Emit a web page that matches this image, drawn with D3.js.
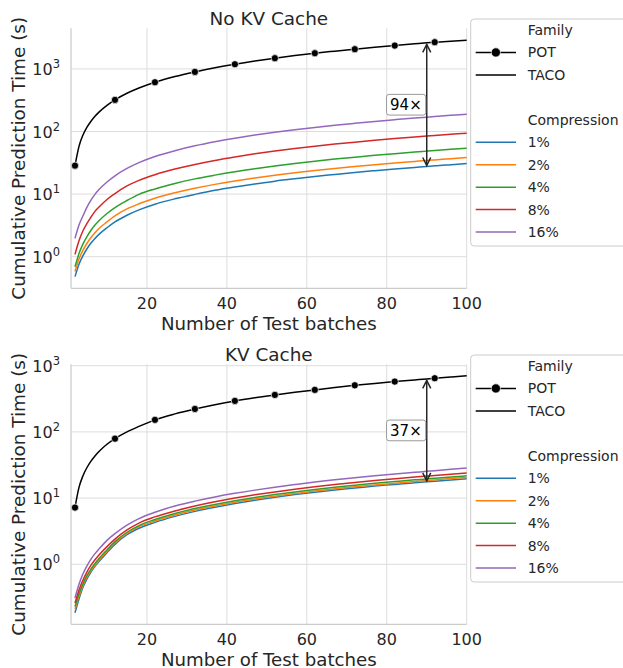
<!DOCTYPE html>
<html>
<head>
<meta charset="utf-8">
<script src="https://cdn.jsdelivr.net/npm/d3@7"></script>
<style>
  html, body { margin: 0; padding: 0; background: #ffffff; }
  svg { display: block; font-family: "DejaVu Sans", sans-serif; }
</style>
</head>
<body>
<svg id="chart" width="623" height="668"></svg>
<script>
// ---------------- DATA ----------------
const batches = [2,3,4,5,6,7,8,10,12,15,18,22,27,32,37,42,47,52,57,62,67,72,77,82,87,90,92,96,100];
const markerBatches = [2,12,22,32,42,52,62,72,82,92];
const compressionLabels = ["1%","2%","4%","8%","16%"];
const familyLabels = ["POT","TACO"];
const panelTitles = ["No KV Cache","KV Cache"];
const speedupLabels = ["94×","37×"];
const annotBatch = 90;
const xTicks = [20,40,60,80,100];
const yTicks = [1,10,100,1000];

// No KV Cache
const potNoKV = [28.5,58,88,117,146,175,204,262,320,408,495,612,755,896,1042,1188,1335,1483,1632,1782,1922,2065,2212,2361,2515,2612,2673,2775,2873];
const c1NoKV  = [0.48,0.76,1.04,1.34,1.65,1.96,2.27,2.9,3.6,4.6,5.6,6.9,8.4,9.9,11.5,13.0,14.5,16.1,17.6,19.1,20.6,22.2,23.7,25.2,26.7,27.6,28.3,29.5,30.7];
const c2NoKV  = [0.58,0.92,1.27,1.64,2.03,2.42,2.82,3.6,4.5,5.8,7.0,8.6,10.5,12.4,14.3,16.2,18.1,20.0,21.9,23.8,25.7,27.6,29.5,31.4,33.3,34.5,35.2,36.8,38.3];
const c4NoKV  = [0.69,1.12,1.6,2.1,2.65,3.2,3.75,4.9,6.1,7.9,9.9,12.1,14.8,17.5,20.1,22.8,25.5,28.2,30.9,33.6,36.3,38.9,41.6,44.3,47.0,48.6,49.7,51.9,54];
const c8NoKV  = [1.09,1.8,2.6,3.4,4.3,5.3,6.2,8.2,10.2,13.5,16.6,20.4,25.1,29.8,34.5,39.2,44.0,48.7,53.4,58.1,62.9,67.6,72.3,77.0,81.7,84.6,86.5,90.2,94];
const c16NoKV = [1.96,3.2,4.5,6.2,8.0,9.9,11.8,15.6,19.6,25.7,31.8,39.8,49.4,59.0,68.5,78.0,87.6,97.1,106.7,116.2,125.8,135.3,144.9,154.4,164.0,169.7,173.5,181.2,189];

// KV Cache
const potKV = [7.2,14.5,21.8,29,36.2,43.4,50.6,65,79,100,121,152,187,222,258,294,328,362,396,431,468,506,540,575,610,632,646,674,702];
const c1KV  = [0.186,0.3,0.45,0.6,0.76,0.93,1.1,1.5,2.0,2.8,3.5,4.3,5.3,6.3,7.3,8.3,9.3,10.3,11.3,12.3,13.3,14.2,15.2,16.1,17.1,17.6,18.0,18.8,19.6];
const c2KV  = [0.21,0.33,0.48,0.64,0.8,0.97,1.15,1.57,2.1,2.92,3.7,4.5,5.55,6.6,7.6,8.65,9.7,10.7,11.7,12.8,13.8,14.8,15.8,16.8,17.8,18.4,18.8,19.7,20.5];
const c4KV  = [0.23,0.36,0.51,0.68,0.85,1.03,1.22,1.65,2.2,3.05,3.85,4.75,5.85,6.95,8.0,9.1,10.2,11.3,12.4,13.5,14.6,15.6,16.7,17.8,18.9,19.5,20.0,20.8,21.7];
const c8KV  = [0.26,0.41,0.58,0.77,0.97,1.17,1.38,1.85,2.4,3.3,4.2,5.2,6.4,7.6,8.8,10.0,11.2,12.4,13.6,14.8,16.0,17.2,18.4,19.6,20.8,21.5,22.0,23.0,23.9];
const c16KV = [0.31,0.5,0.72,0.95,1.2,1.45,1.7,2.3,2.9,3.9,4.9,6.1,7.6,9.0,10.4,11.8,13.2,14.6,16.0,17.5,18.9,20.3,21.7,23.1,24.5,25.4,26.0,27.2,28.4];

// ---------------- STYLE / LAYOUT ----------------
const colors = ["#1f77b4","#ff7f0e","#2ca02c","#d62728","#9467bd"];
const textColor = "#262626";
const gridColor = "#dddddd";
const left = 71, right = 466.7, plotH = 260;
const panels = [
  {top: 28.3, logLo: -0.505, logHi: 3.649, pot: potNoKV, comp: [c1NoKV,c2NoKV,c4NoKV,c8NoKV,c16NoKV]},
  {top: 364.3, logLo: -0.906, logHi: 3.021, pot: potKV, comp: [c1KV,c2KV,c4KV,c8KV,c16KV]}
];

const svg = d3.select("#chart");
svg.append("rect").attr("width",623).attr("height",668).attr("fill","#ffffff");

const x = d3.scaleLinear().domain([1,100]).range([left,right]);

panels.forEach((p, pi) => {
  const bottom = p.top + plotH;
  const y = d3.scaleLog().domain([Math.pow(10,p.logLo), Math.pow(10,p.logHi)]).range([bottom, p.top]);
  const g = svg.append("g");

  // grid
  g.selectAll(".vx").data(xTicks).enter().append("line")
    .attr("x1", d => x(d)).attr("x2", d => x(d))
    .attr("y1", p.top).attr("y2", bottom)
    .attr("stroke", gridColor).attr("stroke-width", 1);
  g.selectAll(".hy").data(yTicks).enter().append("line")
    .attr("x1", left).attr("x2", right)
    .attr("y1", d => y(d)).attr("y2", d => y(d))
    .attr("stroke", gridColor).attr("stroke-width", 1);
  // spines
  g.append("line").attr("x1",left).attr("x2",left).attr("y1",p.top).attr("y2",bottom)
    .attr("stroke","#cccccc").attr("stroke-width",1.25);
  g.append("line").attr("x1",left).attr("x2",right).attr("y1",bottom).attr("y2",bottom)
    .attr("stroke","#cccccc").attr("stroke-width",1.25);

  // x tick labels
  g.selectAll(".xt").data(xTicks).enter().append("text")
    .attr("x", d => x(d)).attr("y", bottom + 21)
    .attr("text-anchor","middle").attr("font-size","16px").attr("fill",textColor)
    .text(d => d);
  // y tick labels
  yTicks.forEach(t => {
    const tx = g.append("text").attr("x", 60).attr("y", y(t) + 6)
      .attr("text-anchor","end").attr("font-size","16px").attr("fill",textColor);
    tx.append("tspan").text("10");
    tx.append("tspan").attr("font-size","11.5px").attr("dy",-7).text(Math.round(Math.log10(t)));
  });

  // title & axis labels
  g.append("text").attr("x",(left+right)/2).attr("y",p.top-3.3)
    .attr("text-anchor","middle").attr("font-size","18.4px").attr("fill",textColor)
    .text(panelTitles[pi]);
  g.append("text").attr("x",(left+right)/2).attr("y",bottom+41.2)
    .attr("text-anchor","middle").attr("font-size","18.2px").attr("fill",textColor)
    .text("Number of Test batches");
  g.append("text").attr("transform",`translate(25,${p.top+plotH/2}) rotate(-90)`)
    .attr("text-anchor","middle").attr("font-size","18.4px").attr("fill",textColor)
    .text("Cumulative Prediction Time (s)");

  // lines
  const line = d3.line().x((d,i) => x(batches[i])).y(d => y(d)).curve(d3.curveMonotoneX);
  p.comp.forEach((vals, ci) => {
    g.append("path").attr("d", line(vals)).attr("fill","none")
      .attr("stroke", colors[ci]).attr("stroke-width",1.5);
  });
  g.append("path").attr("d", line(p.pot)).attr("fill","none")
    .attr("stroke","#000000").attr("stroke-width",1.5);
  const markerData = markerBatches.map(b => [b, p.pot[batches.indexOf(b)]]);
  g.selectAll(".mk").data(markerData).enter().append("circle")
    .attr("cx", d => x(d[0])).attr("cy", d => y(d[1])).attr("r", 3.6)
    .attr("fill","#000000").attr("stroke","#ffffff").attr("stroke-width",0.7);

  // annotation
  const ai = batches.indexOf(annotBatch);
  const ax = x(annotBatch);
  const yT = y(p.pot[ai]) + 1.5, yB = y(p.comp[0][ai]) - 1;
  g.append("line").attr("x1",ax).attr("x2",ax).attr("y1",yT).attr("y2",yB)
    .attr("stroke","#262626").attr("stroke-width",1.5);
  g.append("path").attr("d",`M${ax-4},${yT+8}L${ax},${yT}L${ax+4},${yT+8}`)
    .attr("fill","none").attr("stroke","#262626").attr("stroke-width",1.5);
  g.append("path").attr("d",`M${ax-4},${yB-8}L${ax},${yB}L${ax+4},${yB-8}`)
    .attr("fill","none").attr("stroke","#262626").attr("stroke-width",1.5);
  const midY = y(Math.sqrt(p.pot[ai]*p.comp[0][ai]));
  const lblG = g.append("g");
  const rect = lblG.append("rect");
  const lbl = lblG.append("text").attr("x", ax - 5).attr("y", midY + 5.3)
    .attr("text-anchor","end").attr("font-size","15px").attr("fill","#000000")
    .text(speedupLabels[pi]);
  const bb = lbl.node().getBBox();
  rect.attr("x", bb.x - 3.5).attr("y", midY - 10.3).attr("width", bb.width + 7.5).attr("height", 20.7)
    .attr("rx",2.5).attr("fill","#ffffff").attr("stroke","#999999").attr("stroke-width",1);

  // legend
  const lg = svg.append("g");
  lg.append("rect").attr("x",470.7).attr("y",p.top-9.3).attr("width",200).attr("height",227)
    .attr("rx",3.5).attr("fill","#ffffff").attr("fill-opacity",0.8)
    .attr("stroke","#cccccc").attr("stroke-width",1);
  const rowY = i => p.top + 1.7 + i*22.45;
  const hx1 = 475.7, hx2 = 516, tx = 527.7;
  const addText = (i, s) => lg.append("text").attr("x",tx).attr("y",rowY(i)).attr("dy","0.36em")
    .attr("font-size","14px").attr("fill",textColor).text(s);
  addText(0, "Family");
  familyLabels.forEach((f, fi) => {
    const i = fi + 1;
    lg.append("line").attr("x1",hx1).attr("x2",hx2).attr("y1",rowY(i)).attr("y2",rowY(i))
      .attr("stroke","#000000").attr("stroke-width",1.5);
    if (f === "POT") {
      lg.append("circle").attr("cx",(hx1+hx2)/2).attr("cy",rowY(i)).attr("r",4.6)
        .attr("fill","#000000").attr("stroke","#ffffff").attr("stroke-width",0.7);
    }
    addText(i, f);
  });
  addText(4, "Compression");
  compressionLabels.forEach((c, ci) => {
    const i = ci + 5;
    lg.append("line").attr("x1",hx1).attr("x2",hx2).attr("y1",rowY(i)).attr("y2",rowY(i))
      .attr("stroke",colors[ci]).attr("stroke-width",1.5);
    addText(i, c);
  });
});
</script>
</body>
</html>
